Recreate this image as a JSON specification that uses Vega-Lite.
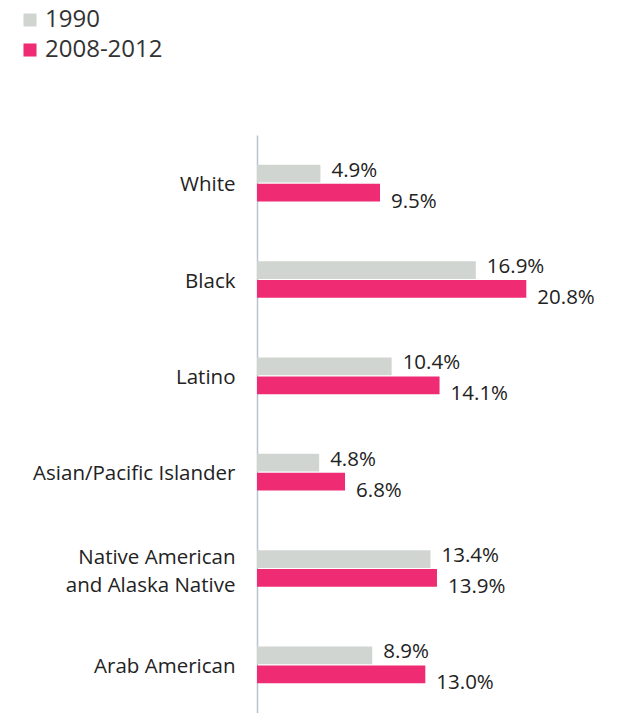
{
  "$schema": "https://vega.github.io/schema/vega-lite/v6.json",
  "autosize": {"type": "none"},
  "padding": {"left": 257, "top": 135, "right": 0, "bottom": 0},
  "width": 369,
  "height": 578,
  "background": "white",
  "config": {
    "view": {"stroke": null},
    "font": "Open Sans",
    "text": {"font": "Open Sans"}
  },
  "data": {
    "values": [
      {"group": "White", "series": "1990", "value": 0.049},
      {"group": "White", "series": "2008-2012", "value": 0.095},
      {"group": "Black", "series": "1990", "value": 0.169},
      {"group": "Black", "series": "2008-2012", "value": 0.208},
      {"group": "Latino", "series": "1990", "value": 0.104},
      {"group": "Latino", "series": "2008-2012", "value": 0.141},
      {"group": "Asian/Pacific Islander", "series": "1990", "value": 0.048},
      {"group": "Asian/Pacific Islander", "series": "2008-2012", "value": 0.068},
      {"group": "Native American and Alaska Native", "series": "1990", "value": 0.134},
      {"group": "Native American and Alaska Native", "series": "2008-2012", "value": 0.139},
      {"group": "Arab American", "series": "1990", "value": 0.089},
      {"group": "Arab American", "series": "2008-2012", "value": 0.130}
    ]
  },
  "encoding": {
    "y": {
      "field": "group",
      "type": "nominal",
      "sort": null,
      "scale": {"paddingInner": 0.62, "paddingOuter": 0.31},
      "axis": {
        "title": null,
        "ticks": false,
        "domainColor": "#b9c2cf",
        "domainWidth": 1.5,
        "labelFont": "Open Sans",
        "labelFontSize": 20.5,
        "labelColor": "#222222",
        "labelPadding": 22,
        "labelLimit": 300,
        "labelExpr": "datum.value == 'Native American and Alaska Native' ? ['Native American', 'and Alaska Native'] : datum.value",
        "labelLineHeight": 28,
        "labelOffset": {"condition": {"test": "datum.value == 'Native American and Alaska Native'", "value": -11}, "value": 2}
      }
    },
    "x": {
      "field": "value",
      "type": "quantitative",
      "scale": {"domain": [0, 0.285]},
      "axis": null
    },
    "yOffset": {
      "field": "series",
      "type": "nominal",
      "scale": {"paddingInner": 0.06}
    }
  },
  "layer": [
    {
      "mark": {"type": "bar"},
      "encoding": {
        "color": {
          "field": "series",
          "type": "nominal",
          "scale": {"domain": ["1990", "2008-2012"], "range": ["#d1d5d1", "#ee2b73"]},
          "legend": {
            "title": null,
            "orient": "none",
            "legendX": -239,
            "legendY": -127,
            "symbolType": "square",
            "symbolSize": 170,
            "symbolStrokeWidth": 0,
            "labelFont": "Open Sans",
            "labelFontSize": 24,
            "labelColor": "#333333",
            "labelOffset": 3,
            "rowPadding": 6
          }
        }
      }
    },
    {
      "transform": [{"filter": "datum.series == '1990'"}],
      "mark": {"type": "text", "align": "left", "baseline": "middle", "dx": 11, "dy": -3, "fontSize": 20.5, "color": "#222222"},
      "encoding": {"text": {"field": "value", "type": "quantitative", "format": ".1%"}}
    },
    {
      "transform": [{"filter": "datum.series == '2008-2012'"}],
      "mark": {"type": "text", "align": "left", "baseline": "middle", "dx": 11, "dy": 9, "fontSize": 20.5, "color": "#222222"},
      "encoding": {"text": {"field": "value", "type": "quantitative", "format": ".1%"}}
    }
  ]
}
